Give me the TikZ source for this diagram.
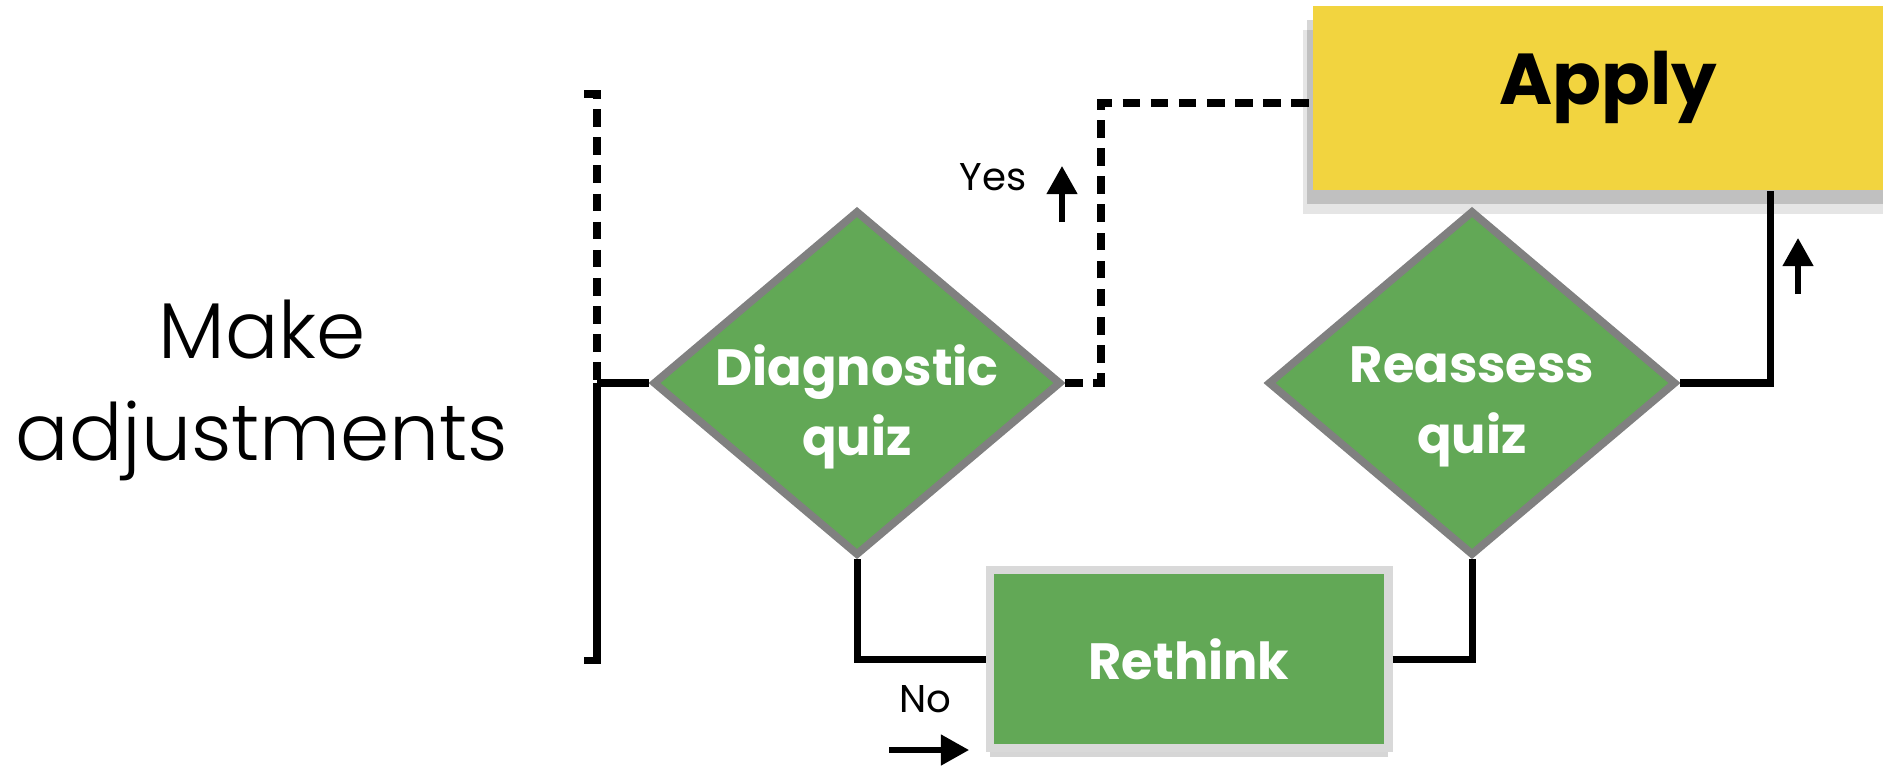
\documentclass[tikz,border=0pt]{standalone}
\usepackage{fontspec}
\setmainfont{Poppins}
\newfontfamily\lightfont{Poppins Light}
\usetikzlibrary{arrows.meta,positioning,shapes.geometric,shadows,calc}
\definecolor{quizgreen}{HTML}{62A856}
\definecolor{rimgray}{HTML}{808080}
\definecolor{applyyellow}{HTML}{F2D43F}
\tikzset{
    quizdiamond/.style={diamond, draw=rimgray, line width=2.2pt, fill=quizgreen,
        minimum width=4.08cm, minimum height=3.45cm, inner sep=0pt},
    quiztext/.style={align=center, text=white, yshift=-0.24cm,
        font=\fontsize{14.5}{20}\selectfont\bfseries},
    stepbox/.style={draw=black!15, line width=2.5pt, fill=quizgreen, text=white,
        minimum width=3.98cm, minimum height=1.78cm,
        font=\fontsize{14.5}{20}\selectfont\bfseries,
        drop shadow={shadow xshift=0cm, shadow yshift=-0.09cm, fill=black, opacity=.16}},
    applybox/.style={fill=applyyellow, minimum width=5.9cm, minimum height=1.84cm,
        drop shadow={shadow xshift=-0.1cm, shadow yshift=-0.24cm, fill=black, opacity=.1},
        drop shadow={shadow xshift=-0.06cm, shadow yshift=-0.14cm, fill=black, opacity=.16}},
    applytext/.style={yshift=0.11cm, font=\fontsize{20.5}{25}\selectfont\bfseries},
    adjtext/.style={align=center, font=\lightfont\fontsize{22.5}{29}\selectfont},
    flowline/.style={line width=2pt},
    yesline/.style={line width=2.2pt, dash pattern=on 5pt off 3pt},
    hintarrow/.style={-{Triangle[length=8pt, width=8.5pt]}, line width=1.5pt},
    hinttext/.style={font=\fontsize{11}{13}\selectfont}
}

\begin{document}
\begin{tikzpicture}[x=0.01cm, y=-0.01cm]
\useasboundingbox (0,0) rectangle (1883,778);
\clip (0,0) rectangle (1883,778);
\node[adjtext] (adjust) at (262,390) {Make\\adjustments};
\node[applybox, label={[applytext]center:Apply}] (apply) at (1608,98) {};
\node[quizdiamond, label={[quiztext]center:Diagnostic\\quiz}] (diag) at (857,383) {};
\node[quizdiamond, label={[quiztext]center:Reassess\\quiz}] (reas) at (1472,383) {};
\node[stepbox] (rethink) at (1189,659) {Rethink};
% bracket on the left
\coordinate (brtop) at (597,94);
\coordinate (brmid) at (597,383);
\coordinate (brbot) at (597,660);
\draw[yesline] ($(brtop)+(-13,0)$) -- (brtop) -- (brmid);
\draw[flowline] (brmid) -- (brbot) -- ++(-13,0);
\draw[flowline] (brmid) -- (diag.west);
% yes path
\draw[yesline] (diag.east) -- ++(36,0) |- ([yshift=-0.05cm]apply.west);
\draw[flowline] (diag.south) |- (rethink.west);
\draw[flowline] (rethink.east) -| (reas.south);
\draw[flowline] (reas.east) -- ++(90,0) coordinate (bend) -- (bend |- apply.south);
% small arrows and labels
\coordinate (yesfoot) at (1062,222);
\coordinate (applyfoot) at (1798,294);
\coordinate (nofoot) at (889,750);
\draw[hintarrow] (yesfoot) -- ++(0,-56);
\draw[hintarrow] (applyfoot) -- ++(0,-56);
\draw[hintarrow] (nofoot) -- ++(80,0);
\node[hinttext] (yes) at (993,177) {Yes};
\node[hinttext] (no) at (925,699) {No};
\end{tikzpicture}
\end{document}
